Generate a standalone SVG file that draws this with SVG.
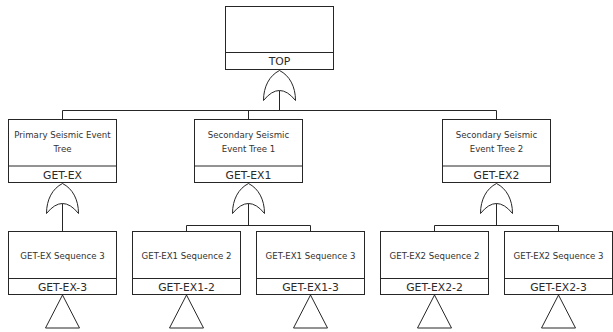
<svg xmlns="http://www.w3.org/2000/svg" xmlns:xlink="http://www.w3.org/1999/xlink" width="613" height="332" viewBox="0 0 613 332">
  <style>
    .box { fill: #ffffff; stroke: #262626; stroke-width: 1; }
    .div { stroke: #262626; stroke-width: 1; }
    .wire { fill: none; stroke: #262626; stroke-width: 1; }
    .gate { fill: #ffffff; stroke: #262626; stroke-width: 1; }
    .desc { font-family: "DejaVu Sans", Verdana, sans-serif; font-size: 8.6px; fill: #333333; text-anchor: middle; }
    .tag { font-family: "DejaVu Sans", Verdana, sans-serif; font-size: 10.8px; fill: #2a2a2a; text-anchor: middle; }
  </style>
  <defs>
    <!-- OR gate, origin at the top point -->
    <path id="or-gate" class="gate" d="M -16,30 C -16,16 -10,5 0,0 C 10,5 16,16 16,30 Q 0,10 -16,30 Z"/>
    <!-- transfer triangle, origin at the apex -->
    <path id="transfer" class="gate" d="M 0,0 L 17,33 L -17,33 Z"/>
  </defs>

  <!-- connectors -->
  <g id="connectors">
    <!-- TOP gate to level 2 -->
    <path class="wire" d="M 279.5,90.5 V 110.5 M 62.5,110.5 H 496.5 M 62.5,110.5 V 119.5 M 248.5,110.5 V 119.5 M 496.5,110.5 V 119.5"/>
    <!-- GET-EX gate to its child -->
    <path class="wire" d="M 62.5,203 V 231.5"/>
    <!-- GET-EX1 gate to its children -->
    <path class="wire" d="M 248.5,203 V 225.5 M 186.5,225.5 H 310.5 M 186.5,225.5 V 231.5 M 310.5,225.5 V 231.5"/>
    <!-- GET-EX2 gate to its children -->
    <path class="wire" d="M 496.5,203 V 225.5 M 434.5,225.5 H 558.5 M 434.5,225.5 V 231.5 M 558.5,225.5 V 231.5"/>
  </g>

  <!-- top event -->
  <g id="TOP">
    <rect class="box" x="225.5" y="6.5" width="108" height="63"/>
    <line class="div" x1="225.5" y1="52.5" x2="333.5" y2="52.5"/>
    <text class="tag" x="279.5" y="65">TOP</text>
    <use xlink:href="#or-gate" x="279.5" y="70.5"/>
  </g>

  <!-- level 2 -->
  <g id="GET-EX">
    <rect class="box" x="8.5" y="119.5" width="108" height="63"/>
    <line class="div" x1="8.5" y1="166" x2="116.5" y2="166"/>
    <text class="desc" x="62.5" y="137.5">Primary Seismic Event</text>
    <text class="desc" x="62.5" y="151.5">Tree</text>
    <text class="tag" x="62.5" y="178.5">GET-EX</text>
    <use xlink:href="#or-gate" x="62.5" y="183.5"/>
  </g>

  <g id="GET-EX1">
    <rect class="box" x="194.5" y="119.5" width="108" height="63"/>
    <line class="div" x1="194.5" y1="166" x2="302.5" y2="166"/>
    <text class="desc" x="248.5" y="137.5">Secondary Seismic</text>
    <text class="desc" x="248.5" y="151.5">Event Tree 1</text>
    <text class="tag" x="248.5" y="178.5">GET-EX1</text>
    <use xlink:href="#or-gate" x="248.5" y="183.5"/>
  </g>

  <g id="GET-EX2">
    <rect class="box" x="442.5" y="119.5" width="108" height="63"/>
    <line class="div" x1="442.5" y1="166" x2="550.5" y2="166"/>
    <text class="desc" x="496.5" y="137.5">Secondary Seismic</text>
    <text class="desc" x="496.5" y="151.5">Event Tree 2</text>
    <text class="tag" x="496.5" y="178.5">GET-EX2</text>
    <use xlink:href="#or-gate" x="496.5" y="183.5"/>
  </g>

  <!-- level 3 -->
  <g id="GET-EX-3">
    <rect class="box" x="8.5" y="231.5" width="108" height="63"/>
    <line class="div" x1="8.5" y1="278.5" x2="116.5" y2="278.5"/>
    <text class="desc" x="62.5" y="258.5">GET-EX Sequence 3</text>
    <text class="tag" x="62.5" y="291">GET-EX-3</text>
    <use xlink:href="#transfer" x="62.5" y="295"/>
  </g>

  <g id="GET-EX1-2">
    <rect class="box" x="132.5" y="231.5" width="108" height="63"/>
    <line class="div" x1="132.5" y1="278.5" x2="240.5" y2="278.5"/>
    <text class="desc" x="186.5" y="258.5">GET-EX1 Sequence 2</text>
    <text class="tag" x="186.5" y="291">GET-EX1-2</text>
    <use xlink:href="#transfer" x="186.5" y="295"/>
  </g>

  <g id="GET-EX1-3">
    <rect class="box" x="256.5" y="231.5" width="108" height="63"/>
    <line class="div" x1="256.5" y1="278.5" x2="364.5" y2="278.5"/>
    <text class="desc" x="310.5" y="258.5">GET-EX1 Sequence 3</text>
    <text class="tag" x="310.5" y="291">GET-EX1-3</text>
    <use xlink:href="#transfer" x="310.5" y="295"/>
  </g>

  <g id="GET-EX2-2">
    <rect class="box" x="380.5" y="231.5" width="108" height="63"/>
    <line class="div" x1="380.5" y1="278.5" x2="488.5" y2="278.5"/>
    <text class="desc" x="434.5" y="258.5">GET-EX2 Sequence 2</text>
    <text class="tag" x="434.5" y="291">GET-EX2-2</text>
    <use xlink:href="#transfer" x="434.5" y="295"/>
  </g>

  <g id="GET-EX2-3">
    <rect class="box" x="504.5" y="231.5" width="108" height="63"/>
    <line class="div" x1="504.5" y1="278.5" x2="612.5" y2="278.5"/>
    <text class="desc" x="558.5" y="258.5">GET-EX2 Sequence 3</text>
    <text class="tag" x="558.5" y="291">GET-EX2-3</text>
    <use xlink:href="#transfer" x="558.5" y="295"/>
  </g>
</svg>
